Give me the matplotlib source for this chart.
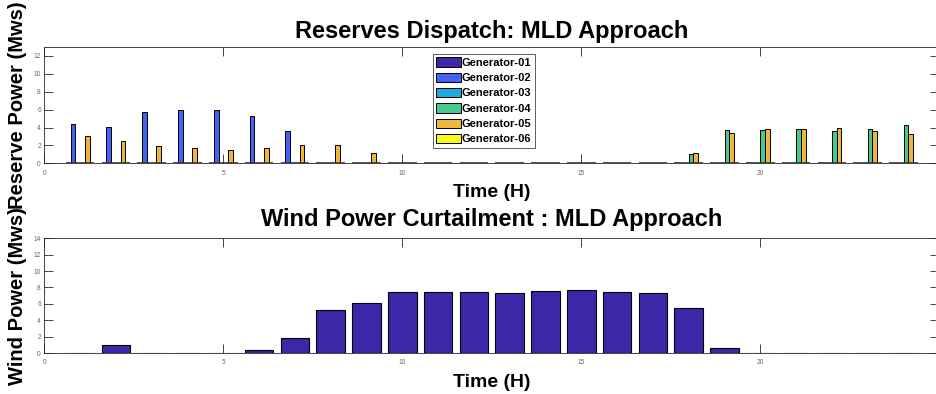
import matplotlib.pyplot as plt
import numpy as np

plt.rcParams['font.family'] = ['Liberation Sans', 'DejaVu Sans']

hours = np.arange(1, 25)

# reserve dispatch per generator (MW), hours 1..24
gen_01 = [0] * 24
gen_02 = [4.44, 4.10, 5.71, 5.98, 6.00, 5.34, 3.61] + [0] * 17
gen_03 = [0] * 24
gen_04 = [0] * 17 + [1.05, 3.69, 3.72, 3.80, 3.57, 3.84, 4.25]
gen_05 = [3.05, 2.44, 1.88, 1.69, 1.54, 1.69, 2.10, 2.10, 1.20] + [0] * 8 + \
         [1.10, 3.39, 3.84, 3.80, 3.91, 3.57, 3.31]
gen_06 = [0] * 24

gen_names = ['Generator-01', 'Generator-02', 'Generator-03',
             'Generator-04', 'Generator-05', 'Generator-06']
gen_colors = ['#3E26A8', '#4163F6', '#1EA9E0', '#48C98B', '#F0B63C', '#F9FB15']

# curtailed wind power (MW), hours 1..24
wind_curtail = [0, 0.94, 0, 0, 0, 0.37, 1.79, 5.29, 6.15, 7.45, 7.49, 7.41,
                7.33, 7.53, 7.65, 7.49, 7.29, 5.54, 0.61, 0, 0, 0, 0, 0]

W, H = 937, 394
fig = plt.figure(figsize=(W / 100, H / 100), dpi=100)

def px_axes(left, top, right, bottom):
    return fig.add_axes([left / W, 1 - bottom / H, (right - left) / W, (bottom - top) / H])

def style_axes(ax, ymax, yticks):
    ax.set_xlim(0, 25)
    ax.set_ylim(0, ymax)
    ax.set_xticks([0, 5, 10, 15, 20, 25])
    ax.set_yticks(yticks)
    ax.tick_params(direction='in', length=6.5, width=0.6, top=True, right=True,
                   labelsize=4.7, labelcolor='#666666', color='#262626')
    ax.tick_params(axis='x', pad=4.5)
    ax.tick_params(axis='y', pad=2.5)
    for s in ax.spines.values():
        s.set_color('#262626')
        s.set_linewidth(0.6)

# --- reserves dispatch ---
ax1 = px_axes(44.3, 47, 939.3, 163.3)
series = [gen_01, gen_02, gen_03, gen_04, gen_05, gen_06]
bw = 0.8 / len(series)
for i, vals in enumerate(series):
    ax1.bar(hours + (i - 2.5) * bw, vals, width=bw, color=gen_colors[i],
            edgecolor='black', linewidth=0.7, label=gen_names[i], zorder=2)
# zero-height bars leave short dark dashes along the baseline
for i in range(len(series)):
    for h in hours:
        ax1.plot([h + (i - 3) * bw, h + (i - 2) * bw], [0, 0], color='#333333',
                 lw=1.2, zorder=3, solid_capstyle='butt')
style_axes(ax1, 13, np.arange(0, 13, 2))
ax1.set_title('Reserves Dispatch: MLD Approach', fontsize=17, fontweight='bold', pad=6.5)
leg = ax1.legend(loc='upper left', bbox_to_anchor=(433 / W, 1 - 54 / H),
                 bbox_transform=fig.transFigure, prop={'weight': 'bold', 'size': 8},
                 handlelength=2.2, handleheight=0.9, handletextpad=0.1,
                 labelspacing=0.44, borderpad=0.3, borderaxespad=0,
                 fancybox=False, framealpha=1, edgecolor='#444444')
leg.get_frame().set_linewidth(0.6)

# --- wind curtailment ---
ax2 = px_axes(44.3, 238.3, 939.3, 353)
ax2.bar(hours, wind_curtail, width=0.8, color='#3E26A8', edgecolor='black',
        linewidth=0.8, zorder=2)
style_axes(ax2, 14, np.arange(0, 15, 2))
ax2.set_title('Wind Power Curtailment : MLD Approach', fontsize=17, fontweight='bold', pad=8.5)

# axis labels
for bottom_px, ylab, ax in [(163.3, 'Reserve Power (Mws)', ax1),
                            (353, 'Wind Power (Mws)', ax2)]:
    pos = ax.get_position()
    fig.text(491.8 / W, 1 - (bottom_px + 34) / H, 'Time (H)', ha='center',
             va='baseline', fontsize=14, fontweight='bold')
    fig.text(18 / W, pos.y0 + pos.height / 2, ylab, rotation=90, ha='center',
             va='center', fontsize=14.5, fontweight='bold')

fig.savefig('out.png', dpi=100)
